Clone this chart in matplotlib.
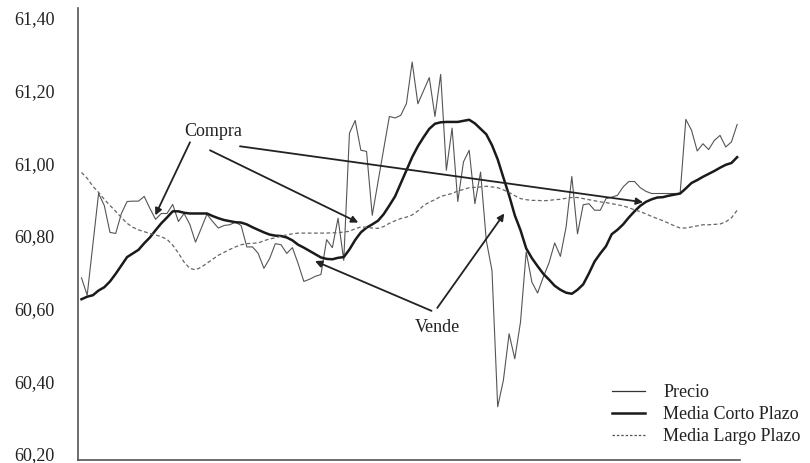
import matplotlib
matplotlib.use("Agg")
import matplotlib.pyplot as plt
from matplotlib.lines import Line2D
from matplotlib.ticker import FixedLocator, FuncFormatter

plt.rcParams['font.family'] = ['Liberation Serif', 'DejaVu Serif']

precio = [
    60.685, 60.637, 60.777, 60.917, 60.884, 60.810, 60.807, 60.862, 60.895, 60.896,
    60.896, 60.909, 60.876, 60.846, 60.862, 60.862, 60.887, 60.840, 60.862, 60.832,
    60.783, 60.821, 60.860, 60.840, 60.822, 60.829, 60.831, 60.838, 60.829, 60.770,
    60.770, 60.752, 60.711, 60.738, 60.779, 60.776, 60.752, 60.768, 60.724, 60.675,
    60.681, 60.689, 60.694, 60.790, 60.768, 60.849, 60.733, 61.083, 61.118, 61.036,
    61.033, 60.857, 60.948, 61.039, 61.129, 61.125, 61.132, 61.165, 61.279, 61.164,
    61.200, 61.236, 61.129, 61.245, 60.981, 61.097, 60.895, 61.004, 61.036, 60.889,
    60.976, 60.788, 60.705, 60.330, 60.403, 60.531, 60.462, 60.563, 60.756, 60.673,
    60.643, 60.687, 60.726, 60.781, 60.744, 60.825, 60.964, 60.806, 60.886, 60.889,
    60.871, 60.871, 60.903, 60.907, 60.912, 60.935, 60.950, 60.950, 60.933, 60.923,
    60.917, 60.917, 60.917, 60.917, 60.917, 60.917, 61.121, 61.091, 61.034, 61.054,
    61.038, 61.063, 61.077, 61.045, 61.059, 61.107,
]

media_corto = [
    60.626, 60.633, 60.637, 60.650, 60.659, 60.675, 60.696, 60.719, 60.742, 60.752,
    60.762, 60.780, 60.796, 60.816, 60.835, 60.851, 60.868, 60.868, 60.864, 60.862,
    60.862, 60.862, 60.862, 60.855, 60.849, 60.844, 60.841, 60.838, 60.837, 60.832,
    60.824, 60.817, 60.810, 60.804, 60.801, 60.800, 60.796, 60.788, 60.776, 60.768,
    60.759, 60.750, 60.741, 60.737, 60.736, 60.740, 60.742, 60.763, 60.789, 60.810,
    60.823, 60.832, 60.842, 60.860, 60.884, 60.909, 60.945, 60.981, 61.017, 61.047,
    61.072, 61.095, 61.109, 61.113, 61.114, 61.114, 61.114, 61.117, 61.120, 61.110,
    61.095, 61.080, 61.050, 61.011, 60.961, 60.912, 60.857, 60.816, 60.766, 60.739,
    60.717, 60.696, 60.680, 60.663, 60.652, 60.644, 60.641, 60.652, 60.667, 60.697,
    60.730, 60.752, 60.772, 60.805, 60.817, 60.832, 60.851, 60.868, 60.883, 60.894,
    60.901, 60.906, 60.907, 60.911, 60.914, 60.917, 60.931, 60.946, 60.954, 60.963,
    60.971, 60.979, 60.988, 60.996, 61.001, 61.017,
]

media_largo = [
    60.975, 60.959, 60.937, 60.920, 60.901, 60.884, 60.868, 60.851, 60.835, 60.824,
    60.817, 60.812, 60.807, 60.803, 60.798, 60.791, 60.775, 60.753, 60.728, 60.711,
    60.707, 60.714, 60.725, 60.736, 60.747, 60.755, 60.763, 60.770, 60.776, 60.779,
    60.780, 60.781, 60.787, 60.792, 60.795, 60.800, 60.803, 60.806, 60.808, 60.808,
    60.808, 60.808, 60.808, 60.808, 60.809, 60.809, 60.811, 60.813, 60.820, 60.825,
    60.824, 60.822, 60.821, 60.826, 60.835, 60.842, 60.848, 60.852, 60.858, 60.869,
    60.884, 60.893, 60.900, 60.909, 60.913, 60.917, 60.924, 60.928, 60.933, 60.934,
    60.935, 60.937, 60.935, 60.933, 60.927, 60.920, 60.911, 60.903, 60.900, 60.898,
    60.898, 60.897, 60.898, 60.900, 60.901, 60.904, 60.906, 60.906, 60.903, 60.900,
    60.897, 60.894, 60.892, 60.889, 60.886, 60.883, 60.878, 60.872, 60.867, 60.861,
    60.854, 60.848, 60.842, 60.835, 60.828, 60.822, 60.822, 60.825, 60.828, 60.831,
    60.831, 60.832, 60.833, 60.839, 60.850, 60.871,
]

y_ticks = [60.20, 60.40, 60.60, 60.80, 61.00, 61.20, 61.40]
labels = ["Precio", "Media Corto Plazo", "Media Largo Plazo"]

# annotation anchors (index, value)
compra_text = (23.1, 61.088)
compra_targets = [(12.94, 60.857), (48.55, 60.837), (98.49, 60.893)]
compra_tails = [(19.03, 61.058), (22.54, 61.036), (27.8, 61.047)]
vende_text = (62.5, 60.549)
vende_targets = [(40.96, 60.731), (74.16, 60.862)]
vende_tails = [(61.4, 60.594), (62.4, 60.602)]

W, H = 810, 463
fig = plt.figure(figsize=(W / 100, H / 100), dpi=100)
ax = fig.add_axes([78 / W, 3 / H, (740 - 78) / W, (460 - 8) / H])

x = list(range(len(precio)))
ax.plot(x, precio, color="#555555", lw=0.8, label=labels[0])
ax.plot(x, media_corto, color="#1a1a1a", lw=1.8, label=labels[1])
ax.plot(x, media_largo, color="#666666", lw=0.9, ls=(0, (3, 2)), label=labels[2])

ax.set_xlim(-0.61, 115.5)
ax.set_ylim(60.1835, 61.4276)
ax.yaxis.set_major_locator(FixedLocator(y_ticks))
ax.yaxis.set_major_formatter(FuncFormatter(lambda v, p: f"{v:.2f}".replace(".", ",")))
ax.set_xticks([])
ax.tick_params(axis="y", length=0, pad=17, labelsize=13, labelcolor="#222222")
for s in ["top", "right"]:
    ax.spines[s].set_visible(False)
for s in ["left", "bottom"]:
    ax.spines[s].set_color("#555555")
    ax.spines[s].set_linewidth(1.2)

arrow_kw = dict(arrowstyle="-|>", color="#222222", lw=1.3, mutation_scale=10,
                shrinkA=0, shrinkB=0)
for tail, tgt in zip(compra_tails, compra_targets):
    ax.annotate("", xy=tgt, xytext=tail, arrowprops=arrow_kw)
for tail, tgt in zip(vende_tails, vende_targets):
    ax.annotate("", xy=tgt, xytext=tail, arrowprops=arrow_kw)
ax.text(*compra_text, "Compra", ha="center", va="center", fontsize=13, color="#222222")
ax.text(*vende_text, "Vende", ha="center", va="center", fontsize=13, color="#222222")

handles = [
    Line2D([], [], color="#333333", lw=0.9),
    Line2D([], [], color="#1a1a1a", lw=1.8),
    Line2D([], [], color="#555555", lw=0.9, ls=(0, (2, 1.5))),
]
leg = fig.legend(handles, labels, loc="upper left", bbox_to_anchor=(612 / W, 1 - 384 / H),
                 frameon=False, fontsize=13, handlelength=1.85, handletextpad=1.0,
                 labelspacing=0.28, borderpad=0, borderaxespad=0)
for t in leg.get_texts():
    t.set_color("#222222")

fig.savefig("out.png", dpi=100)
